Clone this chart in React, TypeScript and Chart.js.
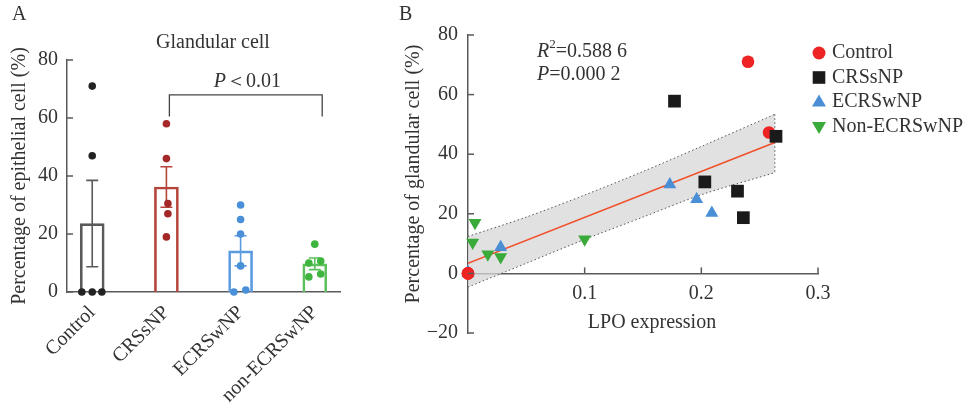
import React, { useEffect, useRef } from "react";
import { Chart, registerables } from "chart.js";

Chart.register(...registerables);

const FONT = '"Liberation Serif", "Times New Roman", serif';
const FS = 20;
const TEXT = "#333333";
const AXIS = "#5a5a5a";

// ---------- Panel A data ----------
const groupsA = ["Control", "CRSsNP", "ECRSwNP", "non-ECRSwNP"];
const meansA = [23.6, 36.2, 14.2, 9.7];
const semA = [14.9, 7.0, 5.2, 2.0];
const barColorsA = ["#5a5a5a", "#b5443b", "#5a9be0", "#5cc05c"];
const dotColorsA = ["#222222", "#a52828", "#4a90d9", "#3fb43f"];
const ptsA = [
  [71, 47, 0, 0, 0],
  [58, 46, 30.5, 27, 19],
  [30, 25, 20, 9, 0, 0.7],
  [16.5, 10, 10.7, 5.2, 6.2],
];
const jitA = [
  [0, 0, -0.14, 0, 0.13],
  [0, 0, 0.02, 0.02, 0],
  [0, 0, 0, 0, -0.09, 0.07],
  [0, -0.08, 0.08, -0.08, 0.08],
];
const yTicksA = [0, 20, 40, 60, 80];
const bracketXA = [1.04, 3.1];
const bracketYA = [68, 60.5];
const pTextPosA = [2.09, 72.4];

// ---------- Panel B data ----------
const seriesB = ["Control", "CRSsNP", "ECRSwNP", "Non-ECRSwNP"];
const colorsB = ["#ee2424", "#1a1a1a", "#4a8fd6", "#3aab3a"];
const controlX = [0.24, 0.258, 0, 0, 0];
const controlY = [71, 47.3, 0, 0, 0];
const crsX = [0.177, 0.264, 0.203, 0.231, 0.236];
const crsY = [57.8, 46, 30.7, 27.6, 18.7];
const ecrsX = [0.173, 0.196, 0.209, 0.028, 0, 0];
const ecrsY = [29.8, 24.9, 20.3, 8.8, 0, 0.5];
const nonX = [0.006, 0.004, 0.017, 0.028, 0.1];
const nonY = [17, 10.4, 6.4, 5.5, 11.5];
const regX = [0, 0.263];
const regY = [3.4, 43.9];
const bandX = [0, 0.05, 0.1, 0.15, 0.2, 0.263];
const bandUpper = [12.4, 18.9, 26.3, 34.2, 42.6, 53.4];
const bandLower = [-4.6, 3.4, 11.4, 18.9, 26.4, 33.8];
const xTicksB = [0.1, 0.2, 0.3];
const yTicksB = [-20, 0, 20, 40, 60, 80];

const pairs = (xs: number[], ys: number[]) => xs.map((x, i) => ({ x, y: ys[i] }));

function drawMarker(ctx: CanvasRenderingContext2D, style: string, cx: number, cy: number, color: string) {
  ctx.fillStyle = color;
  ctx.beginPath();
  if (style === "circle") ctx.arc(cx, cy, 6.5, 0, Math.PI * 2);
  else if (style === "rect") ctx.rect(cx - 6.3, cy - 6.3, 12.6, 12.6);
  else if (style === "up") {
    ctx.moveTo(cx, cy - 7.5);
    ctx.lineTo(cx + 7, cy + 4.5);
    ctx.lineTo(cx - 7, cy + 4.5);
  } else {
    ctx.moveTo(cx, cy + 7.5);
    ctx.lineTo(cx + 7, cy - 4.5);
    ctx.lineTo(cx - 7, cy - 4.5);
  }
  ctx.closePath();
  ctx.fill();
}

function PanelA() {
  const ref = useRef<HTMLCanvasElement>(null);
  useEffect(() => {
    const plug = {
      id: "plugA",
      afterDatasetDraw(chart: any, args: any) {
        if (args.index !== 0) return;
        const { ctx } = chart;
        const x = chart.scales.x, y = chart.scales.y;
        ctx.save();
        meansA.forEach((m, i) => {
          const px = x.getPixelForValue(i);
          const top = y.getPixelForValue(m + semA[i]);
          const bot = y.getPixelForValue(m - semA[i]);
          ctx.strokeStyle = barColorsA[i];
          ctx.lineWidth = 1.6;
          ctx.beginPath();
          ctx.moveTo(px, top);
          ctx.lineTo(px, bot);
          ctx.moveTo(px - 6, top);
          ctx.lineTo(px + 6, top);
          ctx.moveTo(px - 6, bot);
          ctx.lineTo(px + 6, bot);
          ctx.stroke();
        });
        ctx.restore();
      },
      afterDraw(chart: any) {
        const { ctx } = chart;
        const x = chart.scales.x, y = chart.scales.y;
        const area = chart.chartArea;
        ctx.save();
        // inward ticks
        ctx.strokeStyle = AXIS;
        ctx.lineWidth = 1.5;
        yTicksA.forEach((v) => {
          const py = y.getPixelForValue(v);
          ctx.beginPath();
          ctx.moveTo(area.left, py);
          ctx.lineTo(area.left + 6, py);
          ctx.stroke();
        });
        // bracket
        const bx1 = x.getPixelForValue(bracketXA[0]);
        const bx2 = x.getPixelForValue(bracketXA[1]);
        const by1 = y.getPixelForValue(bracketYA[0]);
        const by2 = y.getPixelForValue(bracketYA[1]);
        ctx.strokeStyle = "#444";
        ctx.lineWidth = 1.3;
        ctx.beginPath();
        ctx.moveTo(bx1, by2);
        ctx.lineTo(bx1, by1);
        ctx.lineTo(bx2, by1);
        ctx.lineTo(bx2, by2);
        ctx.stroke();
        // P text
        ctx.fillStyle = TEXT;
        ctx.textBaseline = "middle";
        const pcx = x.getPixelForValue(pTextPosA[0]);
        const pcy = y.getPixelForValue(pTextPosA[1]);
        ctx.font = `italic ${FS}px ${FONT}`;
        const wP = ctx.measureText("P").width;
        ctx.font = `${FS}px ${FONT}`;
        const wR = ctx.measureText("＜0.01").width;
        const sx = pcx - (wP + wR) / 2;
        ctx.textAlign = "left";
        ctx.font = `italic ${FS}px ${FONT}`;
        ctx.fillText("P", sx, pcy);
        ctx.font = `${FS}px ${FONT}`;
        ctx.fillText("＜0.01", sx + wP, pcy);
        // titles
        ctx.textAlign = "center";
        ctx.fillText("Glandular cell", 213, 43);
        ctx.textAlign = "left";
        ctx.fillText("A", 12, 15);
        // y title
        ctx.translate(20, (area.top + area.bottom) / 2);
        ctx.rotate(-Math.PI / 2);
        ctx.textAlign = "center";
        ctx.fillText("Percentage of epithelial cell (%)", 0, 0);
        ctx.restore();
      },
    };
    const datasets: any[] = [
      {
        type: "bar",
        data: meansA.map((m, i) => ({ x: i, y: m })),
        backgroundColor: "rgba(255,255,255,0)",
        borderColor: barColorsA,
        borderWidth: 2,
        barThickness: 24,
        order: 10,
      },
      ...ptsA.map((vals, g) => ({
        type: "scatter",
        data: vals.map((v, j) => ({ x: g + jitA[g][j], y: v })),
        backgroundColor: dotColorsA[g],
        borderWidth: 0,
        pointRadius: 3.8,
        clip: false,
        order: 0,
      })),
    ];
    const chart = new Chart(ref.current!, {
      type: "bar",
      data: { datasets },
      plugins: [plug],
      options: {
        animation: false,
        responsive: false,
        layout: { padding: { top: 60, right: 20, left: 0, bottom: 0 } },
        plugins: { legend: { display: false }, tooltip: { enabled: false } },
        scales: {
          x: {
            type: "linear",
            min: -0.34,
            max: 3.34,
            offset: false,
            afterBuildTicks: (s: any) => {
              s.ticks = groupsA.map((_, i) => ({ value: i }));
            },
            afterFit: (s: any) => {
              s.height = 111;
            },
            ticks: {
              autoSkip: false,
              minRotation: 45,
              maxRotation: 45,
              padding: 9,
              color: TEXT,
              font: { family: FONT, size: FS },
              callback: (v: any) => groupsA[v],
            },
            grid: { display: false, drawTicks: false, offset: false },
            border: { display: true, color: AXIS, width: 1.5 },
          },
          y: {
            min: 0,
            max: 80,
            afterBuildTicks: (s: any) => {
              s.ticks = yTicksA.map((v) => ({ value: v }));
            },
            afterFit: (s: any) => {
              s.width = 67;
            },
            ticks: { padding: 9, color: TEXT, font: { family: FONT, size: FS } },
            grid: { display: false, drawTicks: false },
            border: { display: true, color: AXIS, width: 1.5 },
          },
        },
      } as any,
    });
    return () => chart.destroy();
  }, []);
  return (
    <canvas
      ref={ref}
      width={360}
      height={403}
      style={{ position: "absolute", left: 0, top: 0, width: 360, height: 403 }}
    />
  );
}

function PanelB() {
  const ref = useRef<HTMLCanvasElement>(null);
  useEffect(() => {
    const OFF = 370;
    const plug = {
      id: "plugB",
      afterDraw(chart: any) {
        const { ctx } = chart;
        const x = chart.scales.x, y = chart.scales.y;
        const area = chart.chartArea;
        ctx.save();
        ctx.strokeStyle = AXIS;
        ctx.lineWidth = 1.5;
        const y0 = y.getPixelForValue(0);
        xTicksB.forEach((v) => {
          const px = x.getPixelForValue(v);
          ctx.beginPath();
          ctx.moveTo(px, y0);
          ctx.lineTo(px, y0 - 6);
          ctx.stroke();
        });
        yTicksB.forEach((v) => {
          const py = y.getPixelForValue(v);
          ctx.beginPath();
          ctx.moveTo(area.left, py);
          ctx.lineTo(area.left + 6, py);
          ctx.stroke();
        });
        ctx.fillStyle = TEXT;
        ctx.textBaseline = "middle";
        // R2 / P
        let sx = 537 - OFF;
        ctx.textAlign = "left";
        ctx.font = `italic ${FS}px ${FONT}`;
        ctx.fillText("R", sx, 52);
        sx += ctx.measureText("R").width;
        ctx.font = `13px ${FONT}`;
        ctx.fillText("2", sx, 45);
        sx += ctx.measureText("2").width;
        ctx.font = `${FS}px ${FONT}`;
        ctx.fillText("=0.588 6", sx, 52);
        sx = 537 - OFF;
        ctx.font = `italic ${FS}px ${FONT}`;
        ctx.fillText("P", sx, 75);
        sx += ctx.measureText("P").width;
        ctx.font = `${FS}px ${FONT}`;
        ctx.fillText("=0.000 2", sx, 75);
        // panel letter
        ctx.fillText("B", 399 - OFF, 15);
        // x title
        ctx.textAlign = "center";
        ctx.fillText("LPO expression", 652 - OFF, 323);
        // legend
        const styles = ["circle", "rect", "up", "down"];
        seriesB.forEach((name, i) => {
          const cy = 53 + i * 24.5;
          drawMarker(ctx, styles[i], 819 - OFF, cy, colorsB[i]);
          ctx.fillStyle = TEXT;
          ctx.textAlign = "left";
          ctx.font = `${FS}px ${FONT}`;
          ctx.fillText(name, 832 - OFF, cy);
        });
        // y title
        ctx.translate(414 - OFF, 174);
        ctx.rotate(-Math.PI / 2);
        ctx.textAlign = "center";
        ctx.fillText("Percentage of glandular cell (%)", 0, 0);
        ctx.restore();
      },
    };
    const dotted = [1.5, 2.5];
    const datasets: any[] = [
      {
        type: "line",
        data: pairs(bandX, bandUpper),
        borderColor: "#555",
        borderWidth: 1,
        borderDash: dotted,
        backgroundColor: "rgba(215,215,215,0.75)",
        fill: "+1",
        pointRadius: 0,
        tension: 0.3,
        order: 20,
      },
      {
        type: "line",
        data: pairs(bandX, bandLower),
        borderColor: "#555",
        borderWidth: 1,
        borderDash: dotted,
        fill: false,
        pointRadius: 0,
        tension: 0.3,
        order: 19,
      },
      {
        type: "line",
        data: [
          { x: bandX[bandX.length - 1], y: bandUpper[bandUpper.length - 1] },
          { x: bandX[bandX.length - 1], y: bandLower[bandLower.length - 1] },
        ],
        borderColor: "#555",
        borderWidth: 1,
        borderDash: dotted,
        fill: false,
        pointRadius: 0,
        order: 18,
      },
      {
        type: "line",
        data: pairs(regX, regY),
        borderColor: "#f0502a",
        borderWidth: 1.6,
        fill: false,
        pointRadius: 0,
        order: 10,
      },
      {
        type: "scatter",
        data: pairs(ecrsX, ecrsY),
        pointStyle: "triangle",
        pointRadius: 7.5,
        backgroundColor: colorsB[2],
        borderWidth: 0,
        clip: false,
        order: 3,
      },
      {
        type: "scatter",
        data: pairs(controlX, controlY),
        pointStyle: "circle",
        pointRadius: 6.3,
        backgroundColor: colorsB[0],
        borderWidth: 0,
        clip: false,
        order: 2,
      },
      {
        type: "scatter",
        data: pairs(crsX, crsY),
        pointStyle: "rect",
        pointRadius: 9,
        backgroundColor: colorsB[1],
        borderWidth: 0,
        clip: false,
        order: 1,
      },
      {
        type: "scatter",
        data: pairs(nonX, nonY),
        pointStyle: "triangle",
        rotation: 180,
        pointRotation: 180,
        pointRadius: 7.5,
        backgroundColor: colorsB[3],
        borderWidth: 0,
        clip: false,
        order: 0,
      },
    ];
    const chart = new Chart(ref.current!, {
      type: "scatter",
      data: { datasets },
      plugins: [plug],
      options: {
        animation: false,
        responsive: false,
        layout: { padding: { top: 35, right: 148, left: 0, bottom: 70 } },
        plugins: { legend: { display: false }, tooltip: { enabled: false } },
        scales: {
          x: {
            type: "linear",
            min: 0,
            max: 0.3,
            position: { y: 0 },
            afterBuildTicks: (s: any) => {
              s.ticks = xTicksB.map((v) => ({ value: v }));
            },
            ticks: {
              padding: 8,
              maxRotation: 0,
              color: TEXT,
              font: { family: FONT, size: FS },
              callback: (v: any) => Number(v).toFixed(1),
            },
            grid: { display: false, drawTicks: false },
            border: { display: true, color: AXIS, width: 1.5 },
          },
          y: {
            type: "linear",
            min: -20,
            max: 80,
            position: "left",
            afterBuildTicks: (s: any) => {
              s.ticks = yTicksB.map((v) => ({ value: v }));
            },
            afterFit: (s: any) => {
              s.width = 98;
            },
            ticks: {
              padding: 10,
              color: TEXT,
              font: { family: FONT, size: FS },
              callback: (v: any) => (v < 0 ? "\u2212" + Math.abs(v) : String(v)),
            },
            grid: { display: false, drawTicks: false },
            border: { display: true, color: AXIS, width: 1.5 },
          },
        },
      } as any,
    });
    return () => chart.destroy();
  }, []);
  return (
    <canvas
      ref={ref}
      width={596}
      height={403}
      style={{ position: "absolute", left: 370, top: 0, width: 596, height: 403 }}
    />
  );
}

export default function App() {
  return (
    <div style={{ position: "absolute", left: 0, top: 0, width: 966, height: 403, background: "#fff", overflow: "hidden" }}>
      <PanelA />
      <PanelB />
    </div>
  );
}
